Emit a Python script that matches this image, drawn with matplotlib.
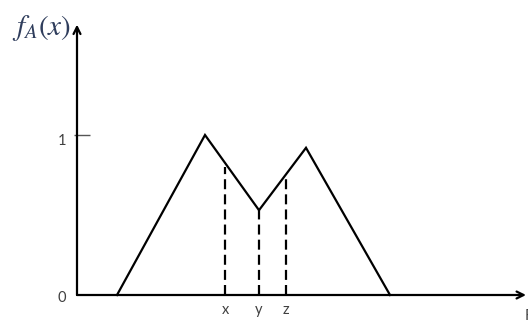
import matplotlib
matplotlib.use("Agg")
import matplotlib.pyplot as plt

# membership function breakpoints (x, f_A(x))
curve_x = [0.40, 1.28, 1.82, 2.29, 3.13]
curve_y = [0.0, 1.0, 0.53, 0.92, 0.0]
# dashed markers
mark_labels = ["x", "y", "z"]
mark_x = [1.48, 1.82, 2.09]
mark_y = [0.80, 0.53, 0.75]
ytick_vals = [0, 1]
ytick_labels = ["0", "1"]

fig = plt.figure(figsize=(5.28, 3.21), dpi=100)
ax = fig.add_axes([0, 0, 1, 1])
ax.set_xlim(-0.77, 4.51)
ax.set_ylim(-0.1625, 1.84375)
ax.axis("off")

lw = 1.6
# axes arrows
ax.annotate("", xy=(0, 1.69), xytext=(0, 0),
            arrowprops=dict(arrowstyle="->,head_length=0.5,head_width=0.25", lw=lw, color="black",
                            shrinkA=0, shrinkB=0))
ax.annotate("", xy=(4.49, 0), xytext=(0, 0),
            arrowprops=dict(arrowstyle="->,head_length=0.5,head_width=0.25", lw=lw, color="black",
                            shrinkA=0, shrinkB=0))

# tick at 1
ax.plot([-0.03, 0.13], [1, 1], color="#555555", lw=1.0, solid_capstyle="butt")

# curve
ax.plot(curve_x, curve_y, color="black", lw=lw, solid_joinstyle="miter")

# dashed lines
for mx, my in zip(mark_x, mark_y):
    ax.plot([mx, mx], [0, my], color="black", lw=lw, linestyle=(0, (4.5, 2.3)))

# labels
for mx, lab in zip(mark_x, mark_labels):
    ax.text(mx, -0.095, lab, ha="center", va="center", fontsize=10.5,
            family="Lato", color="#404040")

ax.text(-0.15, 1.005, ytick_labels[1], ha="center", va="top", fontsize=10.5,
        family="Lato", color="#404040")
ax.text(-0.15, -0.02, ytick_labels[0], ha="center", va="center", fontsize=10.5,
        family="Lato", color="#404040")

ax.text(-0.65, 1.67, r"$f_A(x)$", ha="left", va="center", fontsize=21,
        color="#2f3d5c", math_fontfamily="stix")

ax.text(4.48, -0.13, "F", ha="left", va="center", fontsize=10.5,
        family="Lato", color="#404040")

fig.savefig("out.png", dpi=100)
